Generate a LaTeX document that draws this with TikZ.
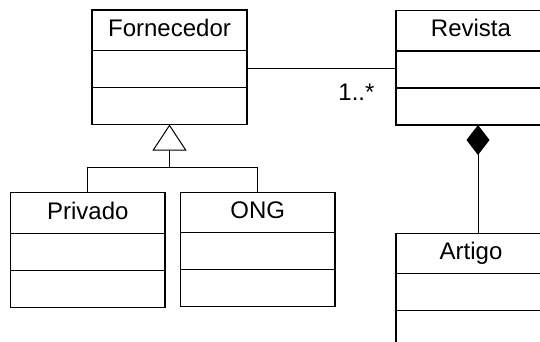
\documentclass[tikz,border=0pt]{standalone}
\usepackage{fontspec}
\setmainfont{Liberation Sans}
\usetikzlibrary{positioning}
\usetikzlibrary{arrows.meta}

\begin{document}
\begin{tikzpicture}[x=1pt,y=-1pt,every node/.style={font=\fontsize{24}{28}\selectfont},
  classbox/.style={draw,line width=1.2pt,minimum width=155pt,minimum height=40.5pt,inner sep=0pt,outer sep=0pt,text height=17.5pt,text depth=5pt},
  slotbox/.style={classbox,minimum height=37pt},
  link/.style={draw,line width=1pt}
]
\useasboundingbox (0,0) rectangle (540,342);
\clip (0,0) rectangle (540,342);

\node[classbox] (forn) at (169.5,30.25) {Fornecedor};
\node[slotbox,below=0pt of forn] (fornA) {};
\node[slotbox,below=0pt of fornA] (fornB) {};

\node[classbox,minimum width=150pt] (rev) at (471,30.75) {Revista};
\node[slotbox,minimum width=150pt,below=0pt of rev] (revA) {};
\node[slotbox,minimum width=150pt,below=0pt of revA] (revB) {};

\node[classbox,minimum width=154.5pt] (priv) at (87.8,213) {Privado};
\node[slotbox,minimum width=154.5pt,below=0pt of priv] (privA) {};
\node[slotbox,minimum width=154.5pt,below=0pt of privA] (privB) {};

\node[classbox,minimum width=154.5pt] (ong) at (257.8,212.5) {ONG};
\node[slotbox,minimum width=154.5pt,below=0pt of ong] (ongA) {};
\node[slotbox,minimum width=154.5pt,below=0pt of ongA] (ongB) {};

\node[classbox,minimum width=150pt] (art) at (471,253.5) {Artigo};
\node[slotbox,minimum width=150pt,below=0pt of art] (artA) {};
\node[slotbox,minimum width=150pt,below=0pt of artA] (artB) {};

\coordinate (fork) at (169.5,167.5);
\draw[link] (priv.north) |- (fork) -| (ong.north);
\draw[link,-{Triangle[open,length=26pt,width=34pt,fill=white]}] (fork) -- (fornB.south);

\draw[link] (fornA.east) -- (fornA.east -| revA.west);
\node[anchor=base east] (mult) at (378,100) {1..*};

\draw[link,{Diamond[length=30pt,width=23pt]}-] ([xshift=7pt]revB.south) -- ([xshift=7pt]art.north);
\end{tikzpicture}
\end{document}
